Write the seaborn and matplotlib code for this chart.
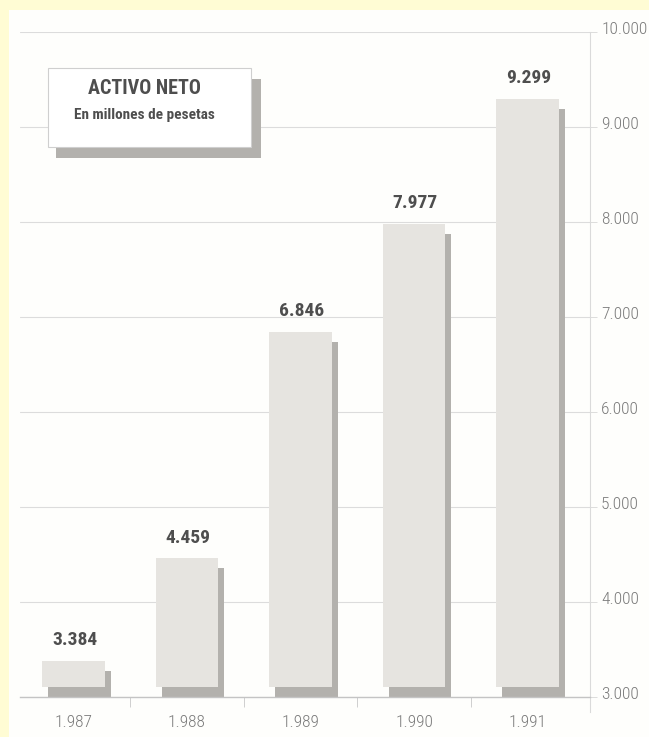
import matplotlib
matplotlib.use("Agg")
import matplotlib.pyplot as plt
import matplotlib.transforms as mtrans
from matplotlib.patches import Rectangle
from matplotlib.ticker import FuncFormatter, FixedLocator
import seaborn as sns
import pandas as pd

# data
years = ["1.987", "1.988", "1.989", "1.990", "1.991"]
activo = [3384, 4459, 6846, 7977, 9299]
value_labels = ["3.384", "4.459", "6.846", "7.977", "9.299"]
y_ticks = [3000, 4000, 5000, 6000, 7000, 8000, 9000, 10000]
title = "ACTIVO NETO"
subtitle = "En millones de pesetas"

BASE = 3000
TOP = 10000

YELLOW = "#fffcd4"
PANEL = "#fefefc"
FRONT = "#e6e4e0"
SHADOW = "#b3b1ad"
GRID = "#dcdcdc"
TEXT_DARK = "#4e4e4e"
TEXT_LIGHT = "#7a7a7a"
NARROW = ["Roboto Condensed", "Roboto", "DejaVu Sans"]

sns.set_style("white")
plt.rcParams["font.family"] = NARROW

W, H = 649, 737
fig = plt.figure(figsize=(W / 100, H / 100), dpi=100, facecolor=YELLOW)


def px_rect(x0, y0, x1, y1, **kw):
    # rectangle given in pixels from the top-left corner
    return Rectangle((x0 / W, 1 - y1 / H), (x1 - x0) / W, (y1 - y0) / H,
                     transform=fig.transFigure, **kw)


# white panel
fig.patches.append(px_rect(9, 10, W, H, facecolor=PANEL, edgecolor="none", zorder=-5))

ax = fig.add_axes([20 / W, 40 / H, 570 / W, 665 / H])
ax.set_facecolor("none")

df = pd.DataFrame({"year": years, "activo": activo})

# shadow bars first, then the light front bars
sns.barplot(data=df, x="year", y="activo", color=SHADOW, width=0.55,
            saturation=1, ax=ax, zorder=2)
sns.barplot(data=df, x="year", y="activo", color=FRONT, width=0.55,
            saturation=1, ax=ax, zorder=3)

ax.set_xlim(-0.47, 4.55)
ax.set_ylim(BASE, TOP)

# front bars stand 10 px above the axis, shadows are pushed right and down
fig.canvas.draw()
y_px = ax.transData.transform((0, BASE))[1]
lift = ax.transData.inverted().transform((0, y_px + 10))[1] - BASE
shift = mtrans.ScaledTranslation(6 / 100, -10 / 100, fig.dpi_scale_trans)

n = len(years)
for p, v in zip(ax.patches[:n], activo):
    p.set_y(BASE + lift)
    p.set_height(v - BASE - lift)
    p.set_transform(ax.transData + shift)
    p.set_clip_on(False)
    p.set_edgecolor("none")
for p, v in zip(ax.patches[n:], activo):
    p.set_y(BASE + lift)
    p.set_height(v - BASE - lift)
    p.set_edgecolor("none")

for i, (v, lab) in enumerate(zip(activo, value_labels)):
    ax.annotate(lab, (i, v), xytext=(1, 15), textcoords="offset points",
                ha="center", va="center", fontsize=14, fontweight="bold",
                color=TEXT_DARK, zorder=5)

# axes styling
ax.set_xlabel("")
ax.set_ylabel("")
ax.yaxis.tick_right()
ax.set_yticks(y_ticks)
ax.yaxis.set_major_formatter(FuncFormatter(lambda v, _: f"{v:,.0f}".replace(",", ".")))
ax.grid(axis="y", color=GRID, linewidth=0.8)
ax.set_axisbelow(True)
ax.tick_params(axis="y", right=True, length=5, width=0.7, color=GRID,
               pad=3, labelsize=12.5, labelcolor=TEXT_LIGHT)
ax.tick_params(axis="x", which="major", length=0, pad=13,
               labelsize=12.5, labelcolor=TEXT_LIGHT)
ax.xaxis.set_minor_locator(FixedLocator([0.5, 1.5, 2.5, 3.5]))
ax.tick_params(axis="x", which="minor", bottom=True, length=7, width=0.7,
               color="#cfcfcf", direction="out")
for lab in ax.get_xticklabels() + ax.get_yticklabels():
    lab.set_fontweight("light")

up = mtrans.ScaledTranslation(0, 4 / 100, fig.dpi_scale_trans)
for lab in ax.get_yticklabels():
    lab.set_transform(lab.get_transform() + up)

for side in ["left", "top"]:
    ax.spines[side].set_visible(False)
ax.spines["bottom"].set_color("#c4c4c4")
ax.spines["bottom"].set_linewidth(1.0)
ax.spines["right"].set_color("#dadada")
ax.spines["right"].set_linewidth(0.8)
ax.spines["right"].set_bounds(BASE - 160, TOP)

# title box with shadow
fig.patches.append(px_rect(56, 79, 261, 158, facecolor=SHADOW, edgecolor="none", zorder=4))
fig.patches.append(px_rect(48, 68, 251, 147, facecolor="white", edgecolor="#cfcfcf",
                           linewidth=0.8, zorder=5))
fig.text(144 / W, 1 - 88 / H, title, ha="center", va="center", fontsize=14.5,
         fontweight="bold", color=TEXT_DARK, zorder=6)
fig.text(144 / W, 1 - 115 / H, subtitle, ha="center", va="center", fontsize=11,
         fontweight="bold", color=TEXT_DARK, zorder=6)

fig.savefig("out.png", dpi=100, facecolor=YELLOW)
